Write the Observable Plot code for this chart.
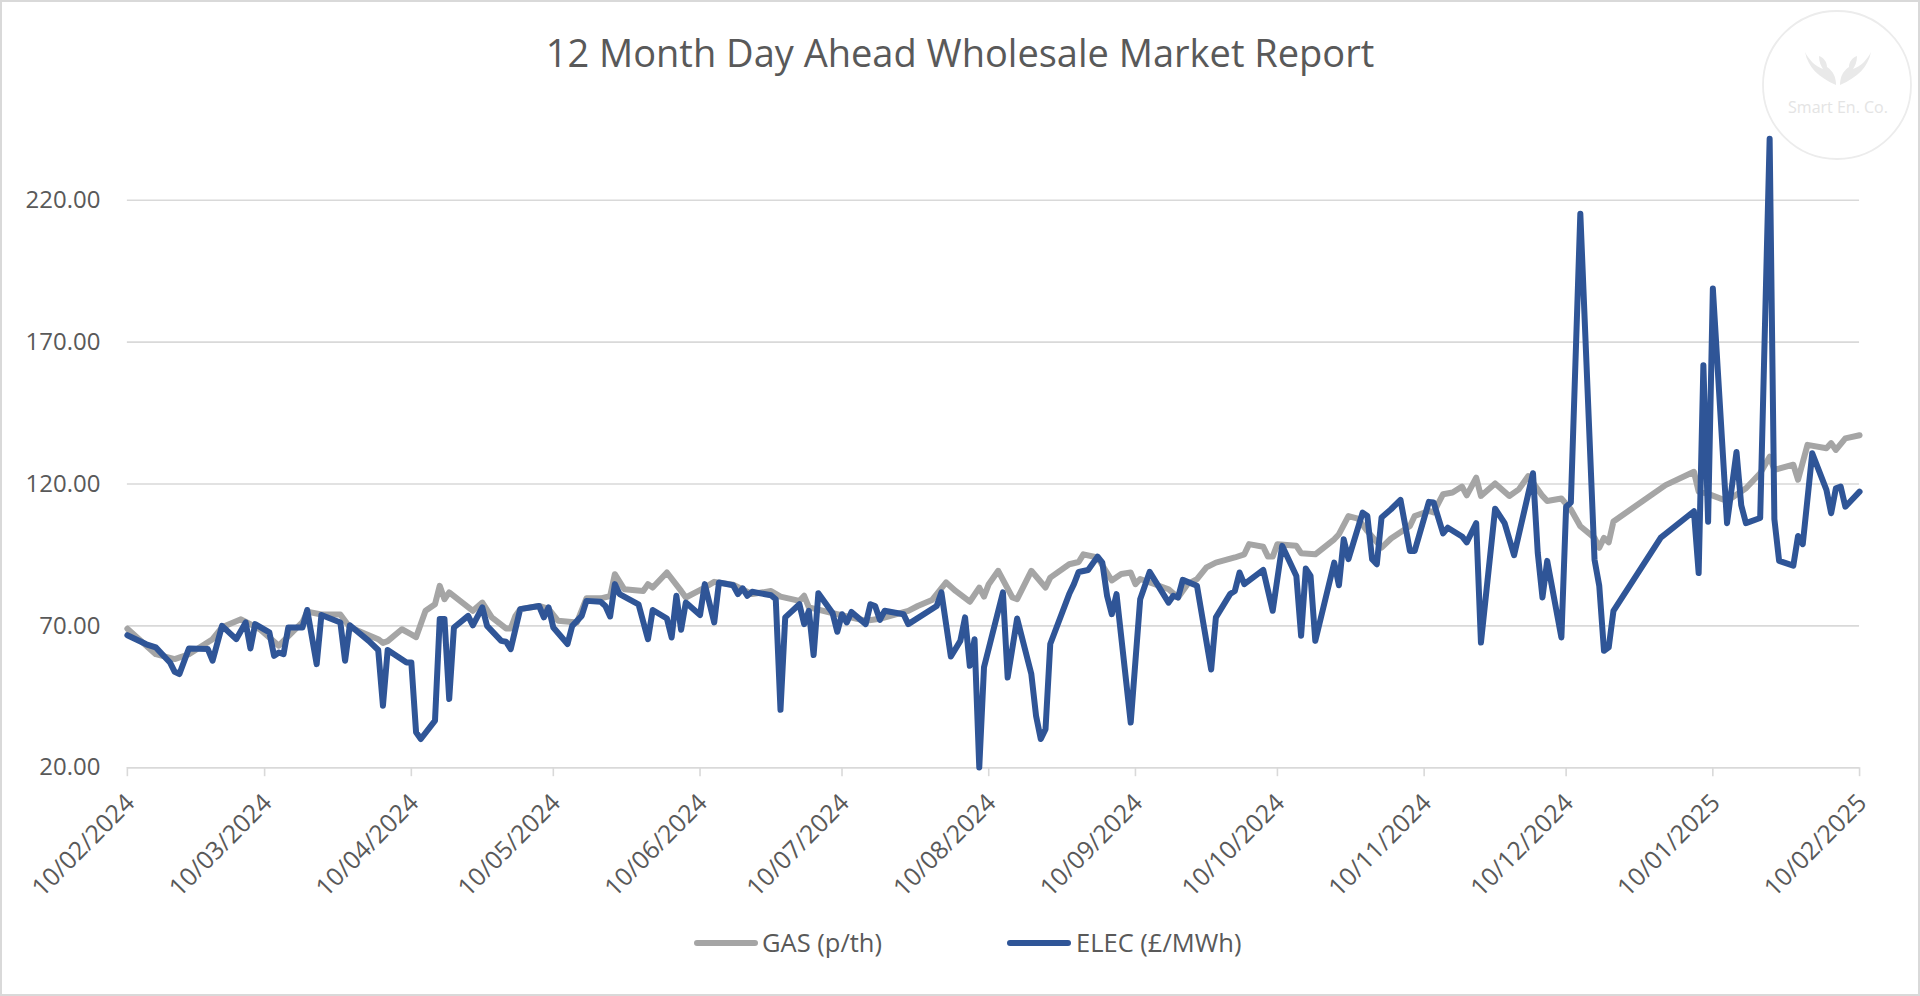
<!DOCTYPE html>
<html>
<head>
<meta charset="utf-8">
<script src="https://cdn.jsdelivr.net/npm/d3@7"></script>
<script src="https://cdn.jsdelivr.net/npm/@observablehq/plot@0.6"></script>
<style>
  html, body { margin: 0; padding: 0; background: #ffffff; }
  #frame { position: relative; width: 1920px; height: 996px; box-sizing: border-box; border: 2px solid #d9d9d9; overflow: hidden; background: #fff; }
  #chart { position: absolute; left: -2px; top: -2px; }
  #deco { position: absolute; left: -2px; top: -2px; pointer-events: none; }
</style>
</head>
<body>
<div id="frame">
  <div id="chart"></div>
  <svg id="deco" width="1920" height="996" xmlns="http://www.w3.org/2000/svg"></svg>
</div>
<script>
// ---- Data ----
const titleText = "12 Month Day Ahead Wholesale Market Report";
const seriesNames = ["GAS (p/th)", "ELEC (£/MWh)"];
const seriesColors = ["#a5a5a5", "#2f5597"];
const yTicks = [20, 70, 120, 170, 220];
const xTickDates = ["2024-02-10","2024-03-10","2024-04-10","2024-05-10","2024-06-10","2024-07-10",
  "2024-08-10","2024-09-10","2024-10-10","2024-11-10","2024-12-10","2025-01-10","2025-02-10"];

const gasSeries = [
  ["2024-02-10",69.0],["2024-02-16",60.0],["2024-02-20",58.3],["2024-02-23",60.0],["2024-02-28",65.3],
  ["2024-03-01",69.5],["2024-03-05",72.3],["2024-03-09",68.8],["2024-03-13",63.0],["2024-03-18",71.3],
  ["2024-03-19",75.0],["2024-03-22",74.0],["2024-03-26",74.0],["2024-03-28",69.5],["2024-04-03",65.3],
  ["2024-04-04",64.0],["2024-04-05",64.6],["2024-04-08",68.8],["2024-04-10",67.0],["2024-04-11",66.0],
  ["2024-04-13",75.3],["2024-04-15",77.6],["2024-04-16",84.1],["2024-04-17",79.4],["2024-04-18",81.8],
  ["2024-04-23",75.3],["2024-04-25",78.2],["2024-04-27",73.0],["2024-04-30",69.1],["2024-05-01",69.1],
  ["2024-05-02",73.5],["2024-05-03",75.9],["2024-05-07",77.0],["2024-05-09",76.0],["2024-05-11",71.8],
  ["2024-05-15",71.2],["2024-05-17",79.7],["2024-05-20",79.7],["2024-05-22",80.5],["2024-05-23",88.2],
  ["2024-05-25",82.9],["2024-05-29",82.3],["2024-05-30",84.7],["2024-05-31",83.5],["2024-06-03",88.8],
  ["2024-06-06",82.3],["2024-06-07",80.0],["2024-06-11",83.5],["2024-06-13",85.5],["2024-06-17",84.5],
  ["2024-06-21",81.2],["2024-06-25",82.3],["2024-06-27",80.3],["2024-07-01",78.8],["2024-07-02",80.6],
  ["2024-07-03",76.5],["2024-07-09",74.1],["2024-07-15",71.8],["2024-07-18",72.5],["2024-07-24",75.3],
  ["2024-07-26",77.0],["2024-07-29",79.1],["2024-08-01",85.3],["2024-08-03",82.3],["2024-08-06",78.5],
  ["2024-08-08",83.5],["2024-08-09",80.3],["2024-08-10",84.7],["2024-08-12",89.4],["2024-08-15",80.0],
  ["2024-08-16",79.4],["2024-08-19",89.4],["2024-08-22",83.5],["2024-08-23",87.0],["2024-08-27",91.7],
  ["2024-08-29",92.5],["2024-08-30",95.2],["2024-09-02",94.1],["2024-09-05",86.0],["2024-09-07",88.3],
  ["2024-09-09",88.8],["2024-09-10",84.7],["2024-09-11",86.5],["2024-09-17",82.9],["2024-09-19",80.0],
  ["2024-09-21",84.7],["2024-09-23",86.5],["2024-09-25",90.6],["2024-09-27",92.3],["2024-10-01",94.1],
  ["2024-10-03",95.2],["2024-10-04",98.8],["2024-10-07",97.9],["2024-10-08",94.4],["2024-10-09",94.4],
  ["2024-10-10",98.8],["2024-10-14",98.2],["2024-10-15",95.6],["2024-10-18",95.2],["2024-10-22",100.5],
  ["2024-10-23",102.3],["2024-10-25",108.7],["2024-10-27",107.8],["2024-10-29",103.4],["2024-11-01",97.6],
  ["2024-11-03",100.8],["2024-11-07",105.2],["2024-11-08",108.7],["2024-11-11",110.5],["2024-11-12",110.0],
  ["2024-11-14",116.4],["2024-11-16",117.0],["2024-11-18",119.1],["2024-11-19",116.0],["2024-11-21",122.2],
  ["2024-11-22",115.8],["2024-11-25",120.2],["2024-11-28",115.8],["2024-11-30",118.1],["2024-12-02",122.8],
  ["2024-12-05",115.8],["2024-12-06",114.0],["2024-12-09",114.9],["2024-12-11",111.0],["2024-12-13",105.1],
  ["2024-12-16",101.0],["2024-12-17",97.5],["2024-12-18",101.0],["2024-12-19",99.4],["2024-12-20",106.8],
  ["2024-12-31",119.6],["2025-01-06",124.3],["2025-01-07",117.3],["2025-01-09",116.5],["2025-01-13",114.0],
  ["2025-01-17",118.5],["2025-01-20",123.8],["2025-01-22",129.6],["2025-01-23",125.0],["2025-01-27",126.8],
  ["2025-01-28",121.5],["2025-01-30",133.8],["2025-02-03",132.6],["2025-02-04",134.4],["2025-02-05",132.0],
  ["2025-02-07",136.1],["2025-02-10",137.2]
];

const elecSeries = [
  ["2024-02-10",66.7],["2024-02-14",63.5],["2024-02-16",62.4],["2024-02-19",57.1],["2024-02-20",53.8],
  ["2024-02-21",53.0],["2024-02-23",62.0],["2024-02-27",61.8],["2024-02-28",57.7],["2024-03-01",70.0],
  ["2024-03-04",65.3],["2024-03-06",71.2],["2024-03-07",62.0],["2024-03-08",70.6],["2024-03-11",67.7],
  ["2024-03-12",59.4],["2024-03-13",60.6],["2024-03-14",60.0],["2024-03-15",69.4],["2024-03-18",69.4],
  ["2024-03-19",75.6],["2024-03-21",56.5],["2024-03-22",73.8],["2024-03-26",71.2],["2024-03-27",57.7],
  ["2024-03-28",70.2],["2024-04-01",64.7],["2024-04-03",61.5],["2024-04-04",41.8],["2024-04-05",61.5],
  ["2024-04-09",57.1],["2024-04-10",57.1],["2024-04-11",32.5],["2024-04-12",30.1],["2024-04-15",36.6],
  ["2024-04-16",72.4],["2024-04-17",72.4],["2024-04-18",44.2],["2024-04-19",69.4],["2024-04-22",73.5],
  ["2024-04-23",70.2],["2024-04-25",76.5],["2024-04-26",70.0],["2024-04-29",64.7],["2024-04-30",64.4],
  ["2024-05-01",61.8],["2024-05-03",75.9],["2024-05-07",77.0],["2024-05-08",73.0],["2024-05-09",76.5],
  ["2024-05-10",69.4],["2024-05-13",63.6],["2024-05-14",70.0],["2024-05-16",73.5],["2024-05-17",78.8],
  ["2024-05-20",78.5],["2024-05-21",77.0],["2024-05-22",73.3],["2024-05-23",84.7],["2024-05-24",81.2],
  ["2024-05-28",77.6],["2024-05-30",65.3],["2024-05-31",75.6],["2024-06-03",72.6],["2024-06-04",65.9],
  ["2024-06-05",80.6],["2024-06-06",68.6],["2024-06-07",78.2],["2024-06-10",73.8],["2024-06-11",84.7],
  ["2024-06-13",71.2],["2024-06-14",85.3],["2024-06-17",84.3],["2024-06-18",81.2],["2024-06-19",83.2],
  ["2024-06-20",80.6],["2024-06-21",82.0],["2024-06-25",80.8],["2024-06-26",79.4],["2024-06-27",40.4],
  ["2024-06-28",73.0],["2024-07-01",77.6],["2024-07-02",70.6],["2024-07-03",75.3],["2024-07-04",59.7],
  ["2024-07-05",81.5],["2024-07-08",74.5],["2024-07-09",67.9],["2024-07-10",74.1],["2024-07-11",71.2],
  ["2024-07-12",74.9],["2024-07-15",70.6],["2024-07-16",77.6],["2024-07-17",77.0],["2024-07-18",72.1],
  ["2024-07-19",75.3],["2024-07-23",74.1],["2024-07-24",70.6],["2024-07-30",77.0],["2024-07-31",81.8],
  ["2024-08-02",59.2],["2024-08-04",64.7],["2024-08-05",73.0],["2024-08-06",55.9],["2024-08-07",65.3],
  ["2024-08-08",20.1],["2024-08-09",55.4],["2024-08-13",81.8],["2024-08-14",51.8],["2024-08-16",72.6],
  ["2024-08-19",53.0],["2024-08-20",38.3],["2024-08-21",30.1],["2024-08-22",33.6],["2024-08-23",63.6],
  ["2024-08-27",81.2],["2024-08-28",84.7],["2024-08-29",89.0],["2024-08-31",89.7],["2024-09-02",94.4],
  ["2024-09-03",92.3],["2024-09-04",80.6],["2024-09-05",74.1],["2024-09-06",81.2],["2024-09-09",35.9],
  ["2024-09-11",79.4],["2024-09-13",89.0],["2024-09-17",78.2],["2024-09-18",80.6],["2024-09-19",80.0],
  ["2024-09-20",86.2],["2024-09-23",84.1],["2024-09-26",54.6],["2024-09-27",73.0],["2024-09-30",81.2],
  ["2024-10-01",82.3],["2024-10-02",88.8],["2024-10-03",84.7],["2024-10-07",89.7],["2024-10-09",75.3],
  ["2024-10-11",98.2],["2024-10-14",87.6],["2024-10-15",66.5],["2024-10-16",90.2],["2024-10-17",87.6],
  ["2024-10-18",64.7],["2024-10-22",92.3],["2024-10-23",84.3],["2024-10-24",100.5],["2024-10-25",93.5],
  ["2024-10-28",109.9],["2024-10-29",108.7],["2024-10-30",93.5],["2024-10-31",91.7],["2024-11-01",108.2],
  ["2024-11-03",111.1],["2024-11-05",114.4],["2024-11-07",96.4],["2024-11-08",96.4],["2024-11-11",113.7],
  ["2024-11-12",113.5],["2024-11-14",102.6],["2024-11-15",104.6],["2024-11-18",101.5],["2024-11-19",99.4],
  ["2024-11-21",106.2],["2024-11-22",64.1],["2024-11-25",111.3],["2024-11-27",106.2],["2024-11-29",94.9],
  ["2024-12-03",123.8],["2024-12-04",95.8],["2024-12-05",80.0],["2024-12-06",92.9],["2024-12-09",65.9],
  ["2024-12-10",112.0],["2024-12-11",113.5],["2024-12-13",215.3],["2024-12-16",93.3],["2024-12-17",84.1],
  ["2024-12-18",61.2],["2024-12-19",62.4],["2024-12-20",75.3],["2024-12-30",101.1],["2025-01-06",110.4],
  ["2025-01-07",88.6],["2025-01-08",161.9],["2025-01-09",106.7],["2025-01-10",188.9],["2025-01-13",106.2],
  ["2025-01-15",131.3],["2025-01-16",112.5],["2025-01-17",106.2],["2025-01-20",108.0],["2025-01-22",241.7],
  ["2025-01-23",107.6],["2025-01-24",92.9],["2025-01-27",91.2],["2025-01-28",101.7],["2025-01-29",98.8],
  ["2025-01-31",130.8],["2025-02-03",117.9],["2025-02-04",109.7],["2025-02-05",118.5],["2025-02-06",119.1],
  ["2025-02-07",112.0],["2025-02-10",117.3]
];

// ---- Chart ----
const parse = d3.utcParse("%Y-%m-%d");
const gasRows = gasSeries.map(([d, v]) => ({date: parse(d), value: v}));
const elecRows = elecSeries.map(([d, v]) => ({date: parse(d), value: v}));
const xTicks = xTickDates.map(parse);

const chart = Plot.plot({
  width: 1920,
  height: 900,
  marginLeft: 127,
  marginRight: 59,
  marginTop: 129,
  marginBottom: 132,
  style: {fontFamily: "'Open Sans', sans-serif", fontSize: "24px", color: "#595959", background: "transparent", overflow: "visible"},
  x: {type: "utc", domain: [xTicks[0], xTicks[xTicks.length - 1]]},
  y: {domain: [20, 245]},
  marks: [
    Plot.gridY(yTicks, {stroke: "#d9d9d9", strokeOpacity: 1, strokeWidth: 1.6}),
    Plot.ruleY([20], {stroke: "#d9d9d9", strokeWidth: 1.6}),
    Plot.ruleX(xTicks, {x: d => d, y1: 20, y2: 20, insetBottom: -9, stroke: "#d9d9d9", strokeWidth: 1.6}),
    Plot.axisY(yTicks, {tickSize: 0, tickPadding: 27, tickFormat: d3.format(".2f"), label: null, fontSize: 24}),
    Plot.axisX(xTicks, {tickSize: 0, tickPadding: 31, dx: 3, tickRotate: -45, tickFormat: d3.utcFormat("%d/%m/%Y"), label: null, fontSize: 25}),
    Plot.lineY(gasRows, {x: "date", y: "value", stroke: seriesColors[0], strokeWidth: 6, strokeLinejoin: "round", strokeLinecap: "round"}),
    Plot.lineY(elecRows, {x: "date", y: "value", stroke: seriesColors[1], strokeWidth: 6, strokeLinejoin: "round", strokeLinecap: "round"})
  ]
});
document.getElementById("chart").appendChild(chart);

// ---- Title, legend, watermark ----
const ns = "http://www.w3.org/2000/svg";
const deco = document.getElementById("deco");
function el(tag, attrs, text) {
  const e = document.createElementNS(ns, tag);
  for (const k in attrs) e.setAttribute(k, attrs[k]);
  if (text != null) e.textContent = text;
  deco.appendChild(e);
  return e;
}
el("text", {x: 960, y: 67, "text-anchor": "middle", "font-family": "'Open Sans', sans-serif", "font-size": 38, "font-weight": 400, fill: "#595959"}, titleText);

// legend
const legendItems = [
  {x1: 697, x2: 755, tx: 762},
  {x1: 1010, x2: 1068, tx: 1076}
];
legendItems.forEach((it, i) => {
  el("line", {x1: it.x1, x2: it.x2, y1: 943, y2: 943, stroke: seriesColors[i], "stroke-width": 6, "stroke-linecap": "round"});
  el("text", {x: it.tx, y: 952, "font-family": "'Open Sans', sans-serif", "font-size": 25.5, fill: "#595959"}, seriesNames[i]);
});

// watermark
el("circle", {cx: 1837, cy: 85, r: 74, fill: "none", stroke: "#ececec", "stroke-width": 1.8});
el("path", {d: "M1805,52 C1808,67 1818,77 1836,85 C1836,77 1833,71 1827,67 C1827,62 1824,58 1819,56 C1819,62 1821,66 1823,69 C1815,66 1809,60 1805,52 Z", fill: "#e9e9e9"});
el("path", {d: "M1871,52 C1868,67 1858,77 1840,85 C1840,77 1843,71 1849,67 C1849,62 1852,58 1857,56 C1857,62 1855,66 1853,69 C1861,66 1867,60 1871,52 Z", fill: "#e9e9e9"});
el("text", {x: 1838, y: 113, "text-anchor": "middle", "font-family": "'Open Sans', sans-serif", "font-size": 16, fill: "#e4e4e4"}, "Smart En. Co.");
</script>
</body>
</html>
